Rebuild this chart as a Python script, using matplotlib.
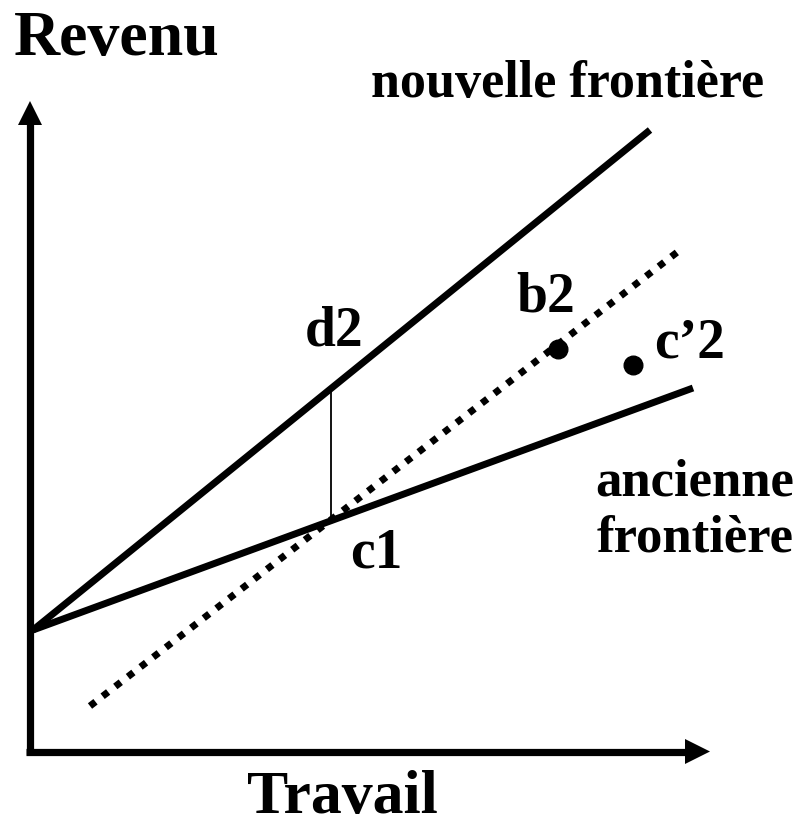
import numpy as np
import matplotlib.pyplot as plt

plt.rcParams['font.family'] = ['Liberation Serif', 'DejaVu Serif']
plt.rcParams['font.weight'] = 'bold'

# data in picture units (x to the right, y downward)
nouvelle_x = [33, 650]
nouvelle_y = [630, 130]
ancienne_x = [33, 693]
ancienne_y = [630, 388]
pointille_x = [90, 680]
pointille_y = [706, 250]
segment_x = [331, 331]
segment_y = [390, 518]
points_x = [558, 633]
points_y = [349, 365]

fig = plt.figure(figsize=(8.01, 8.27), dpi=100)
ax = fig.add_axes([0, 0, 1, 1])
ax.set_xlim(0, 801)
ax.set_ylim(827, 0)
ax.axis('off')

# axes with arrows
ax.plot([30, 30], [755, 120], color='black', lw=5.2, solid_capstyle='butt')
ax.plot([26, 690], [751.5, 751.5], color='black', lw=5.2, solid_capstyle='butt')
ax.fill([18, 42, 30], [125, 125, 101], color='black', lw=0)
ax.fill([685, 685, 710], [739, 764, 751.5], color='black', lw=0)

ax.plot(nouvelle_x, nouvelle_y, color='black', lw=5, solid_capstyle='butt')
ax.plot(ancienne_x, ancienne_y, color='black', lw=5, solid_capstyle='butt')
ax.plot(pointille_x, pointille_y, color='black', lw=5, linestyle=(0, (1, 1.3)))
ax.plot(segment_x, segment_y, color='black', lw=1.3)
ax.scatter(points_x, points_y, s=180, color='black', zorder=3)

ax.text(14, 55, 'Revenu', fontsize=46, ha='left', va='baseline')
ax.text(342, 826, 'Travail', fontsize=44.5, ha='center', va='bottom')
ax.text(568, 97, 'nouvelle frontière', fontsize=37.5, ha='center', va='baseline')
ax.text(695, 495, 'ancienne', fontsize=38, ha='center', va='baseline')
ax.text(695, 552, 'frontière', fontsize=38, ha='center', va='baseline')
ax.text(334, 345, 'd2', fontsize=40, ha='center', va='baseline')
ax.text(546, 312, 'b2', fontsize=40, ha='center', va='baseline')
ax.text(690, 357, 'c’2', fontsize=40, ha='center', va='baseline')
ax.text(376, 567, 'c1', fontsize=40, ha='center', va='baseline')

fig.savefig('out.png', dpi=100)
